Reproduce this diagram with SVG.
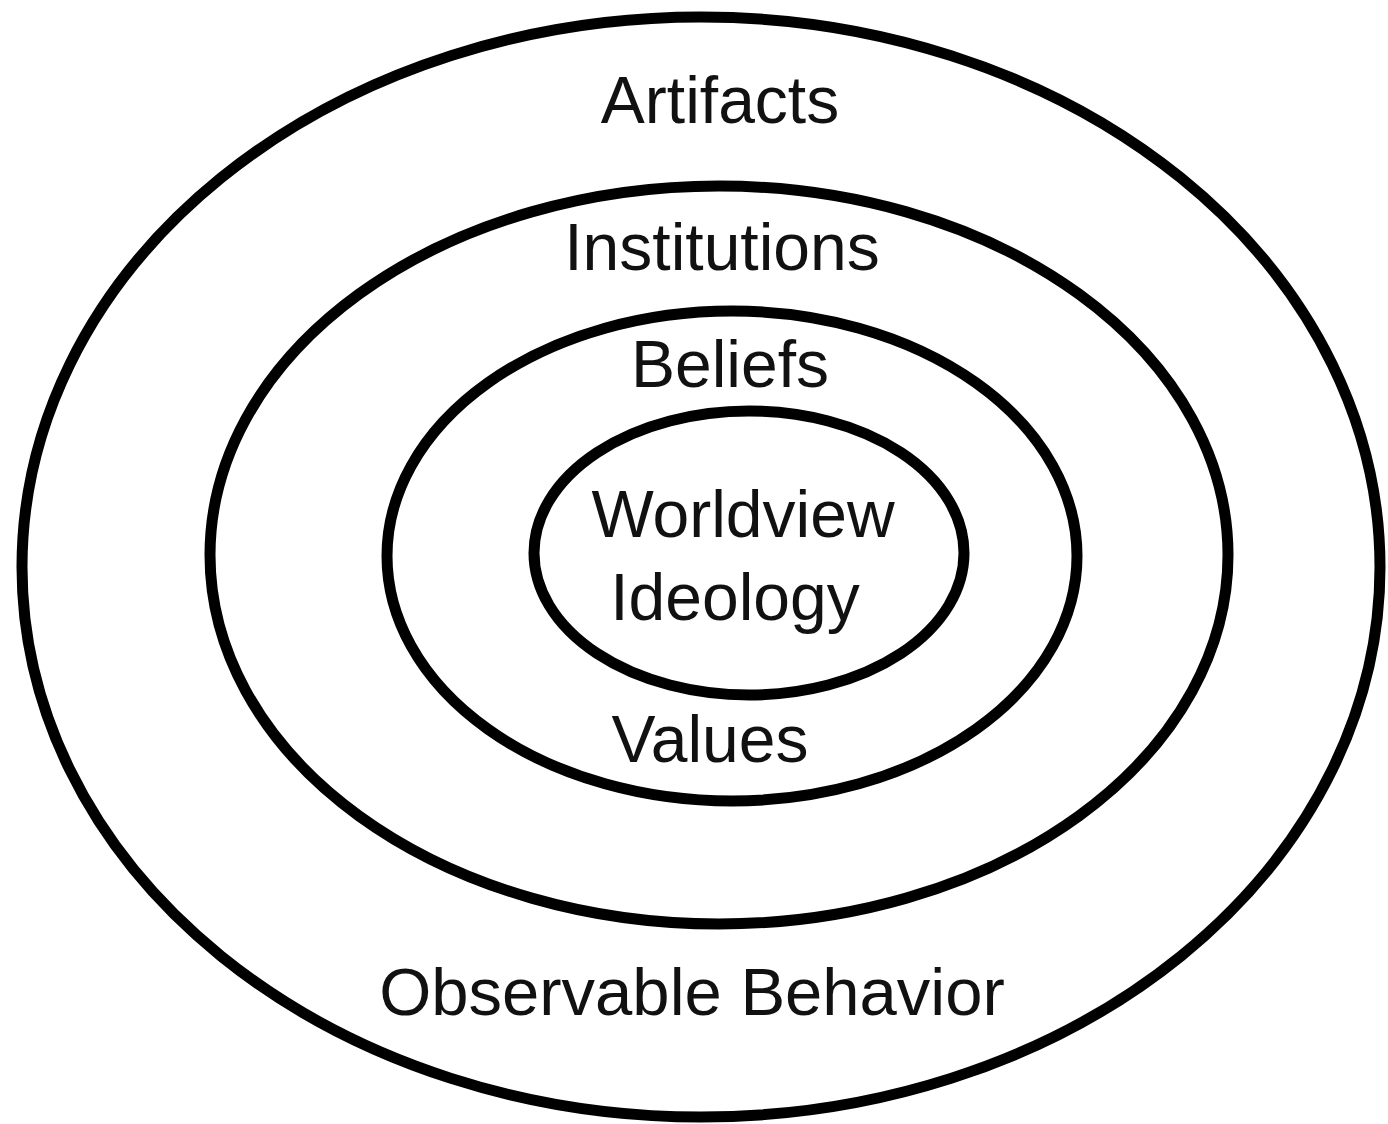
<svg xmlns="http://www.w3.org/2000/svg" width="1388" height="1124" viewBox="0 0 1388 1124">
<style>
.ring{fill:none;stroke:#000;stroke-width:11}
.lbl{font-family:"Liberation Sans",Arial,sans-serif;font-size:66px;fill:#111;text-anchor:middle}
</style>
<rect width="1388" height="1124" fill="#fff"/>
<g id="outer">
<ellipse class="ring" cx="701" cy="567" rx="679" ry="550"/>
<text class="lbl" x="720" y="123">Artifacts</text>
<text class="lbl" x="692" y="1015" style="font-size:67px">Observable Behavior</text>
</g>
<g id="institutions">
<ellipse class="ring" cx="719" cy="555" rx="509" ry="369"/>
<text class="lbl" x="722" y="270">Institutions</text>
</g>
<g id="beliefs">
<ellipse class="ring" cx="732" cy="556" rx="345" ry="245"/>
<text class="lbl" x="730" y="387">Beliefs</text>
<text class="lbl" x="710" y="762">Values</text>
</g>
<g id="core">
<ellipse class="ring" cx="749" cy="553" rx="215" ry="142"/>
<text class="lbl" x="743" y="537">Worldview</text>
<text class="lbl" x="735" y="620">Ideology</text>
</g>
<g id="connectors"></g>
</svg>
